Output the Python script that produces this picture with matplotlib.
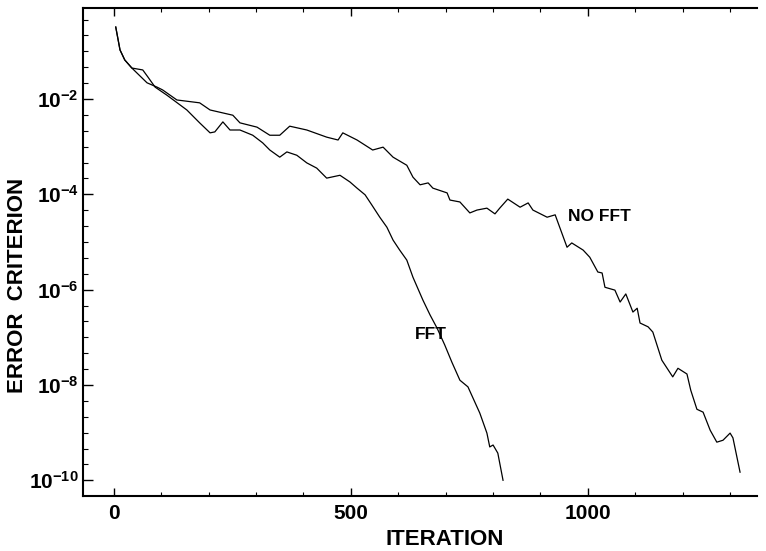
import numpy as np
import matplotlib
matplotlib.use('Agg')
import matplotlib.pyplot as plt
from matplotlib.ticker import FixedLocator, FixedFormatter, NullFormatter

plt.rcParams['font.family'] = ['Liberation Sans', 'DejaVu Sans']
plt.rcParams['font.weight'] = 'bold'
plt.rcParams['mathtext.fontset'] = 'custom'
plt.rcParams['mathtext.rm'] = 'Liberation Sans:bold'
plt.rcParams['mathtext.bf'] = 'Liberation Sans:bold'
plt.rcParams['mathtext.default'] = 'bf'

# 数据：迭代次数 与 误差的 log10 值
fft_iter = [4, 13, 23, 38, 61, 72, 87, 112, 154, 181, 203, 213, 230, 245, 266, 293,
            314, 329, 350, 365, 386, 407, 428, 449, 477, 498, 513, 530, 544, 561,
            576, 589, 603, 618, 631, 652, 667, 682, 698, 713, 730, 747, 772, 787,
            793, 800, 810, 821]
fft_log = [-0.49, -0.97, -1.18, -1.35, -1.39, -1.54, -1.75, -1.92, -2.23, -2.50,
           -2.71, -2.69, -2.48, -2.65, -2.65, -2.76, -2.92, -3.07, -3.22, -3.11,
           -3.18, -3.34, -3.45, -3.66, -3.60, -3.74, -3.87, -4.01, -4.22, -4.48,
           -4.69, -4.96, -5.17, -5.38, -5.74, -6.22, -6.53, -6.81, -7.16, -7.52,
           -7.90, -8.04, -8.59, -9.01, -9.30, -9.26, -9.43, -10.00]

nofft_iter = [4, 13, 23, 38, 70, 91, 103, 133, 181, 203, 251, 266, 302, 329, 350,
              371, 407, 449, 473, 483, 513, 546, 568, 589, 618, 631, 646, 663, 673,
              703, 709, 730, 751, 766, 787, 804, 814, 831, 857, 874, 884, 914, 931,
              935, 956, 966, 990, 1004, 1021, 1030, 1036, 1057, 1068, 1080, 1095,
              1104, 1110, 1127, 1137, 1156, 1179, 1190, 1209, 1217, 1230, 1243,
              1258, 1272, 1285, 1300, 1306, 1321]
nofft_log = [-0.49, -0.97, -1.18, -1.35, -1.66, -1.75, -1.81, -2.02, -2.08, -2.23,
             -2.34, -2.50, -2.59, -2.76, -2.76, -2.57, -2.65, -2.80, -2.86, -2.71,
             -2.86, -3.07, -3.01, -3.22, -3.39, -3.64, -3.80, -3.76, -3.87, -3.97,
             -4.12, -4.16, -4.39, -4.33, -4.29, -4.41, -4.29, -4.10, -4.27, -4.18,
             -4.33, -4.48, -4.43, -4.54, -5.11, -5.02, -5.17, -5.32, -5.63, -5.65,
             -5.95, -6.01, -6.26, -6.09, -6.47, -6.39, -6.70, -6.78, -6.89, -7.48,
             -7.83, -7.65, -7.77, -8.11, -8.51, -8.57, -8.95, -9.20, -9.16, -9.01,
             -9.11, -9.83]

x_major = [0, 500, 1000]
y_major_exp = [-2, -4, -6, -8, -10]

fig = plt.figure(figsize=(7.66, 5.51), dpi=100)
ax = fig.add_axes([0.1084, 0.0998, 0.880, 0.8857])

ax.semilogy(fft_iter, 10.0 ** np.array(fft_log), color='black', lw=0.9)
ax.semilogy(nofft_iter, 10.0 ** np.array(nofft_log), color='black', lw=0.9)

ax.text(958, 10 ** -4.46, 'NO FFT', fontsize=12.5, fontweight='bold', va='center', ha='left')
ax.text(635, 10 ** -6.95, 'FFT', fontsize=12.5, fontweight='bold', va='center', ha='left')

ax.set_xlim(-65, 1357)
ax.set_ylim(10 ** -10.33, 10 ** -0.09)

# x 轴刻度
ax.xaxis.set_major_locator(FixedLocator(x_major))
ax.xaxis.set_minor_locator(FixedLocator(np.arange(0, 1400, 100)))
ax.set_xticklabels([str(v) for v in x_major])

# y 轴刻度（每 1/3 个数量级一个小刻度）
ax.yaxis.set_major_locator(FixedLocator([10.0 ** e for e in y_major_exp]))
ax.yaxis.set_major_formatter(FixedFormatter([r'$10^{%d}$' % e for e in y_major_exp]))
ax.yaxis.set_minor_locator(FixedLocator(10.0 ** np.arange(-12, 1, 1 / 3)))
ax.yaxis.set_minor_formatter(NullFormatter())

ax.tick_params(axis='x', which='major', direction='in', length=6, width=1.0,
               top=True, labelsize=15, pad=6)
ax.tick_params(axis='x', which='minor', direction='in', length=3, width=0.8, top=True)
ax.tick_params(axis='y', which='major', direction='in', length=7, width=1.0,
               labelsize=15, pad=3)
ax.tick_params(axis='y', which='minor', direction='in', length=3.5, width=0.8)

ax.spines['right'].set_visible(False)
for s in ['left', 'top', 'bottom']:
    ax.spines[s].set_linewidth(1.5)

ax.set_xlabel('ITERATION', fontsize=16, fontweight='bold', va='top')
ax.xaxis.set_label_coords(0.536, -0.068)
ax.set_ylabel('ERROR  CRITERION', fontsize=16, fontweight='bold', va='bottom')
ax.yaxis.set_label_coords(-0.0816, 0.432)

fig.savefig('out.png', dpi=100)
